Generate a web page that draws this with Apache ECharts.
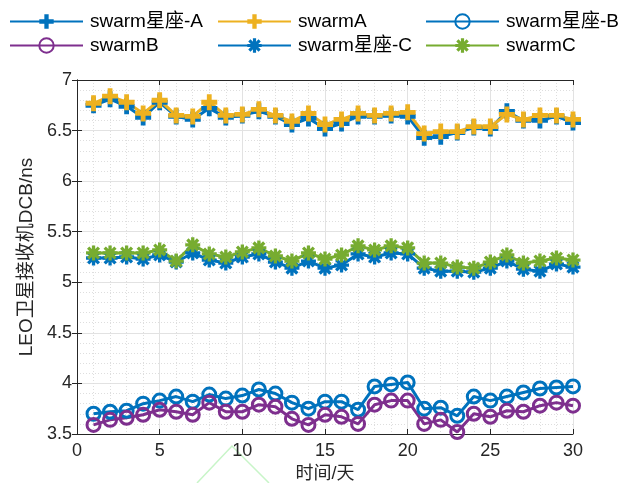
<!DOCTYPE html>
<html>
<head>
<meta charset="utf-8">
<script src="https://cdn.jsdelivr.net/npm/echarts@6/dist/echarts.min.js"></script>
<style>html,body{margin:0;padding:0;background:#fff;}#c{width:618px;height:483px;}</style>
</head>
<body>
<div id="c"></div>
<script>
const days = [1,2,3,4,5,6,7,8,9,10,11,12,13,14,15,16,17,18,19,20,21,22,23,24,25,26,27,28,29,30];
const constA = [6.75,6.81,6.74,6.63,6.78,6.64,6.61,6.72,6.63,6.65,6.69,6.64,6.56,6.62,6.52,6.57,6.64,6.64,6.65,6.64,6.43,6.44,6.48,6.53,6.52,6.69,6.60,6.60,6.64,6.58];
const swarmA = [6.77,6.84,6.78,6.67,6.80,6.65,6.64,6.78,6.65,6.66,6.71,6.65,6.59,6.67,6.56,6.61,6.67,6.65,6.67,6.68,6.47,6.49,6.49,6.54,6.54,6.66,6.61,6.65,6.65,6.61];
const constB = [3.70,3.72,3.73,3.80,3.83,3.87,3.82,3.89,3.85,3.88,3.94,3.90,3.81,3.75,3.82,3.82,3.74,3.97,3.99,4.01,3.75,3.76,3.68,3.87,3.83,3.87,3.91,3.95,3.96,3.97];
const swarmB = [3.59,3.64,3.66,3.69,3.74,3.72,3.69,3.81,3.72,3.72,3.79,3.77,3.65,3.59,3.69,3.67,3.60,3.79,3.83,3.83,3.60,3.64,3.52,3.70,3.67,3.73,3.72,3.78,3.81,3.78];
const constC = [5.24,5.24,5.25,5.23,5.27,5.20,5.29,5.22,5.19,5.25,5.28,5.20,5.14,5.21,5.14,5.17,5.28,5.25,5.29,5.28,5.14,5.11,5.11,5.10,5.14,5.21,5.13,5.11,5.18,5.15];
const swarmC = [5.29,5.29,5.29,5.29,5.32,5.21,5.37,5.28,5.25,5.30,5.34,5.26,5.21,5.29,5.23,5.27,5.36,5.32,5.36,5.34,5.19,5.19,5.15,5.14,5.20,5.27,5.19,5.21,5.24,5.22];
const names = ['swarm星座-A','swarmA','swarm星座-B','swarmB','swarm星座-C','swarmC'];
const xTicks = {min:0,max:30,interval:5};
const yTicks = {min:3.5,max:7,interval:0.5};

const BLUE='#0072BD', YEL='#EDB120', PUR='#7E2F8E', GRN='#77AC30', AX='#262626';
const plus = 'path://M3.5,0H6.5V3.5H10V6.5H6.5V10H3.5V6.5H0V3.5H3.5Z';
const star = 'path://M7.8,0H12.2V20H7.8Z M0,7.8H20V12.2H0Z M4.4,1.3L18.7,15.6L15.6,18.7L1.3,4.4Z M15.6,1.3L18.7,4.4L4.4,18.7L1.3,15.6Z';

function pairs(v){ return days.map((d,i)=>[d,v[i]]); }
function ser(name, data, color, kind){
  const s = {name, type:'line', data:pairs(data), xAxisIndex:0, yAxisIndex:0,
    lineStyle:{color, width:3}, itemStyle:{color}, color, animation:false};
  if(kind==='plus'){ s.symbol=plus; s.symbolSize=16; }
  else if(kind==='star'){ s.symbol=star; s.symbolSize=15; }
  else { s.symbol='circle'; s.symbolSize=13; s.itemStyle={color:'rgba(0,0,0,0)', borderColor:color, borderWidth:3}; }
  return s;
}
const fnt = 'Arial, "Liberation Sans", "Noto Sans CJK SC"';
const legPos = [[9,12],[217,12],[425,12],[9,36],[217,36],[425,36]];
const legends = names.map((n,i)=>({data:[n], left:legPos[i][0], top:legPos[i][1], itemWidth:73, itemHeight:18, padding:0,
  textStyle:{fontSize:19, color:'#000', fontFamily:fnt, padding:[0,0,0,2]}, selectedMode:false}));

const chart = echarts.init(document.getElementById('c'));
chart.setOption({
  backgroundColor:'#fff',
  animation:false,
  legend: legends,
  grid:{left:77, right:45, top:80, bottom:49, containLabel:false, outerBoundsMode:'none'},
  xAxis:[{type:'value', min:xTicks.min, max:xTicks.max, interval:xTicks.interval,
      name:'时间/天', nameLocation:'middle', nameGap:31, nameTextStyle:{fontSize:18, color:AX, fontFamily:fnt},
      axisLine:{show:true, lineStyle:{color:AX, width:1}}, axisTick:{inside:true, length:5, lineStyle:{color:AX}},
      axisLabel:{fontSize:18, color:AX, margin:8, fontFamily:fnt},
      splitLine:{show:true, lineStyle:{color:'#e2e2e2', width:1}},
      minorTick:{show:false, splitNumber:5}, minorSplitLine:{show:true, lineStyle:{color:'#dedede', type:[1,2], width:1}}},
    {type:'value', position:'top', min:xTicks.min, max:xTicks.max, interval:xTicks.interval,
      axisLine:{show:true, lineStyle:{color:AX, width:1}}, axisTick:{inside:true, length:5, lineStyle:{color:AX}},
      axisLabel:{show:false}, splitLine:{show:false}}],
  yAxis:[{type:'value', min:yTicks.min, max:yTicks.max, interval:yTicks.interval,
      name:'LEO卫星接收机DCB/ns', nameLocation:'middle', nameGap:30, nameRotate:90, nameTextStyle:{fontSize:19, color:AX, fontFamily:fnt},
      axisLine:{show:true, lineStyle:{color:AX, width:1}}, axisTick:{inside:true, length:5, lineStyle:{color:AX}},
      axisLabel:{fontSize:18, color:AX, margin:5, fontFamily:fnt},
      splitLine:{show:true, lineStyle:{color:'#e2e2e2', width:1}},
      minorTick:{show:false, splitNumber:5}, minorSplitLine:{show:true, lineStyle:{color:'#dedede', type:[1,2], width:1}}},
    {type:'value', position:'right', min:yTicks.min, max:yTicks.max, interval:yTicks.interval,
      axisLine:{show:true, lineStyle:{color:AX, width:1}}, axisTick:{inside:true, length:5, lineStyle:{color:AX}},
      axisLabel:{show:false}, splitLine:{show:false}}],
  graphic:[{type:'polyline', silent:true, shape:{points:[[197,483],[232,446],[269,483]]}, style:{stroke:'#c8f5c8', lineWidth:1.5, fill:null}}],
  series:[
    ser(names[0], constA, BLUE, 'plus'),
    ser(names[1], swarmA, YEL, 'plus'),
    ser(names[2], constB, BLUE, 'circle'),
    ser(names[3], swarmB, PUR, 'circle'),
    ser(names[4], constC, BLUE, 'star'),
    ser(names[5], swarmC, GRN, 'star')
  ]
});
</script>
</body>
</html>
